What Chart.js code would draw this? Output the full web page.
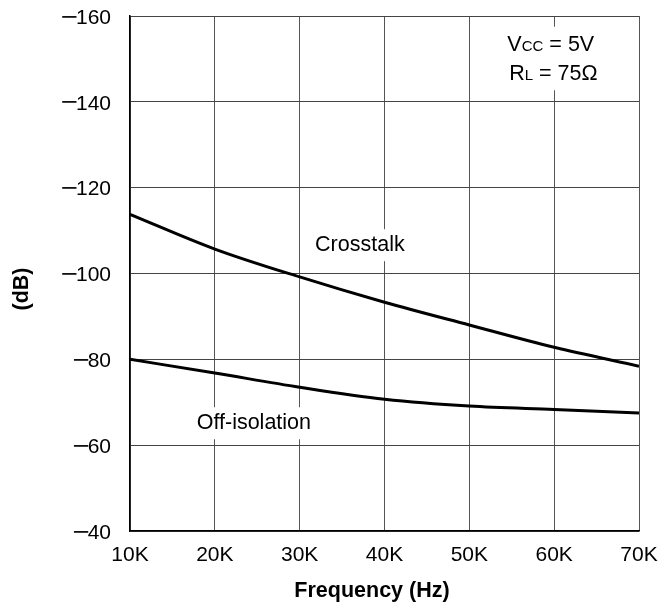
<!DOCTYPE html>
<html>
<head>
<meta charset="utf-8">
<script src="https://cdn.jsdelivr.net/npm/chart.js@4"></script>
<style>
  html, body { margin: 0; padding: 0; background: #fff; }
  #wrap { width: 669px; height: 605px; position: relative; }
</style>
</head>
<body>
<div id="wrap"><canvas id="isoChart"></canvas></div>
<script>
const freqs = [10000, 20000, 30000, 40000, 50000, 60000, 70000];
const crosstalk = [-113.8, -105.7, -99.2, -93.3, -88.0, -82.8, -78.4];
const offIsolation = [-80.0, -76.8, -73.5, -70.7, -69.1, -68.3, -67.5];
const yTicks = [-160, -140, -120, -100, -80, -60, -40];

const FONT = "'Liberation Sans', Arial, Helvetica, sans-serif";

// y tick labels with the long dash, axis titles, and the in-plot notes
const notes = {
  id: "notes",
  afterDraw(chart) {
    const c = chart.ctx;
    const xs = chart.scales.x, ys = chart.scales.y;
    c.save();
    c.fillStyle = "#000";

    // y tick labels
    c.font = "21px " + FONT;
    c.textBaseline = "middle";
    yTicks.forEach(v => {
      const py = ys.getPixelForValue(v) + 2;
      const num = String(Math.abs(v));
      const right = chart.chartArea.left - 19;
      c.textAlign = "right";
      c.fillText(num, right, py);
      const w = c.measureText(num).width;
      c.save();
      c.translate(right - w + 2, py);
      c.scale(1.4, 1.15);
      c.fillText("\u2212", 0, 0);
      c.restore();
    });

    // axis titles
    c.font = "bold 21.5px " + FONT;
    c.textAlign = "center";
    c.fillText("Frequency (Hz)", 372, 591);
    c.save();
    c.translate(22, 289);
    c.rotate(-Math.PI / 2);
    c.fillText("(dB)", 0, 0);
    c.restore();

    function plain(text, fx, fy) {
      c.font = "21.5px " + FONT;
      const px = xs.getPixelForValue(fx), py = ys.getPixelForValue(fy);
      const w = c.measureText(text).width;
      c.fillStyle = "#fff";
      c.fillRect(px - w / 2 - 4, py - 16, w + 8, 32);
      c.fillStyle = "#000";
      c.textAlign = "center";
      c.textBaseline = "middle";
      c.fillText(text, px, py);
    }
    plain("Crosstalk", 37100, -106.6);
    plain("Off-isolation", 24600, -65.1);

    // V_CC / R_L block
    function sub(main, small, rest, fx, fy) {
      const big = "21.5px " + FONT, little = "15px " + FONT;
      c.font = big; const w1 = c.measureText(main).width;
      const w3 = c.measureText(rest).width;
      c.font = little; const w2 = c.measureText(small).width;
      const total = w1 + w2 + w3;
      const cx = xs.getPixelForValue(fx), py = ys.getPixelForValue(fy);
      let x = cx - total / 2;
      c.textAlign = "left";
      c.fillStyle = "#000";
      c.textBaseline = "alphabetic";
      const base = py + 8;
      c.font = big; c.fillText(main, x, base); x += w1;
      c.font = little; c.fillText(small, x, base); x += w2;
      c.font = big; c.fillText(rest, x, base);
    }
    const bx = xs.getPixelForValue(59600);
    c.fillStyle = "#fff";
    c.fillRect(bx - 50, ys.getPixelForValue(-157.5), 100, ys.getPixelForValue(-142.7) - ys.getPixelForValue(-157.5));
    sub("V", "CC", " = 5V", 59600, -153.7);
    sub("R", "L", " = 75Ω", 59900, -146.9);
    c.restore();
  }
};

const ctx = document.getElementById("isoChart").getContext("2d");
new Chart(ctx, {
  type: "line",
  data: {
    datasets: [
      {
        label: "Crosstalk",
        data: freqs.map((f, i) => ({ x: f, y: crosstalk[i] })),
        borderColor: "#000",
        borderWidth: 3,
        pointRadius: 0,
        cubicInterpolationMode: "monotone",
        fill: false
      },
      {
        label: "Off-isolation",
        data: freqs.map((f, i) => ({ x: f, y: offIsolation[i] })),
        borderColor: "#000",
        borderWidth: 3,
        pointRadius: 0,
        cubicInterpolationMode: "monotone",
        fill: false
      }
    ]
  },
  options: {
    responsive: true,
    maintainAspectRatio: false,
    animation: false,
    layout: { padding: { left: 0, right: 30, top: 16, bottom: 0 } },
    plugins: { legend: { display: false }, tooltip: { enabled: false } },
    scales: {
      x: {
        type: "linear",
        min: 10000,
        max: 70000,
        border: { color: "#000", width: 1.5 },
        grid: { color: "#555", lineWidth: 1, drawTicks: false },
        ticks: {
          stepSize: 10000,
          color: "#000",
          padding: 12,
          maxRotation: 0,
          font: { family: FONT, size: 21 },
          callback: v => (v / 1000) + "K"
        },
        afterFit(s) { s.height = 74; s.paddingLeft = 0; s.paddingRight = 0; }
      },
      y: {
        type: "linear",
        reverse: true,
        min: -160,
        max: -40,
        border: { color: "#000", width: 1.5 },
        grid: { color: "#444", lineWidth: 1, drawTicks: false },
        afterBuildTicks(s) { s.ticks = yTicks.map(v => ({ value: v })); },
        ticks: { display: false },
        afterFit(s) { s.width = 130; s.paddingTop = 0; s.paddingBottom = 0; }
      }
    }
  },
  plugins: [notes]
});
</script>
</body>
</html>
